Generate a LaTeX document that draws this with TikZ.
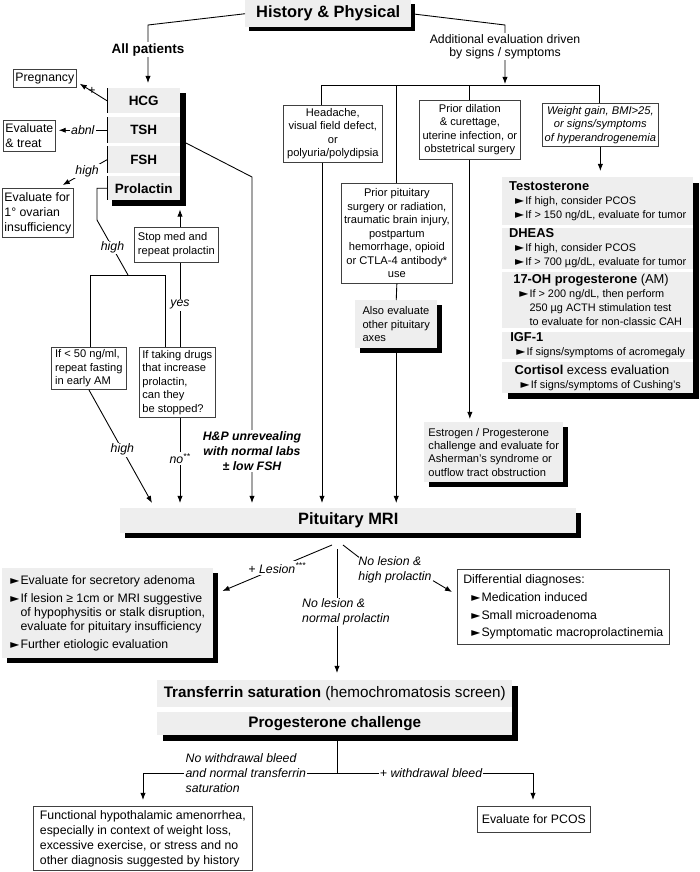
\documentclass[tikz,border=0pt]{standalone}
\usepackage{fontspec}
\setmainfont{Liberation Sans}
\newfontfamily\trifont{DejaVu Sans}
\usetikzlibrary{positioning, calc, arrows.meta, shadows}
\definecolor{boxgray}{HTML}{EEEEEE}
\newcommand{\txtS}{\fontsize{9.5}{11.5}\selectfont}
\newcommand{\txtM}{\fontsize{10.5}{12.8}\selectfont}
\newcommand{\txtB}{\fontsize{9.3}{12}\selectfont}
\newcommand{\txtH}{\fontsize{11}{12}\selectfont}
\newcommand{\txtLab}{\fontsize{11.5}{13}\selectfont\bfseries}
\newcommand{\txtL}{\fontsize{14}{16}\selectfont\bfseries}
\newcommand{\trig}{{\trifont\fontsize{10}{10}\selectfont ►}\hspace{1pt}}
\newcommand{\bul}[1][1.8mm]{\hspace*{#1}\trig}
\newcommand{\bulind}[1][1.8mm]{\hspace*{#1}\phantom{\trig}}
\tikzset{
	arrow/.style={line width=0.75pt, -{Latex[length=6pt, width=4.5pt]}},
	link/.style={line width=0.75pt},
	sz/.style 2 args={minimum width=#1*0.3mm, minimum height=#2*0.3mm, anchor=north west},
	wbox/.style={draw=black!75, line width=0.6pt, fill=white, align=center, font=\txtS, inner sep=1pt},
	gbox/.style={fill=boxgray, align=left, font=\txtS, inner sep=0.5pt},
	shd/.style={drop shadow={shadow xshift=1.5mm, shadow yshift=-1.5mm, fill=black, opacity=1}},
	blk/.style={fill=black, inner sep=0pt},
	wht/.style={fill=white, inner sep=0pt},
	lbl/.style={font=\txtM\itshape, fill=white, inner sep=1pt},
}

\begin{document}
\begin{tikzpicture}[x=0.3mm, y=-0.3mm]
	\useasboundingbox (0,0) rectangle (700,872);

	% History and physical
	\node[gbox, font=\txtL, align=center, sz={166}{27}, drop shadow={shadow xshift=1.2mm, shadow yshift=-1.2mm, fill=black, opacity=1}] (hist) at (245,0) {History \& Physical};

	% Lab stack for all patients
	\node[blk, sz={74}{113}] (stk) at (112,93) {};
	\node[wht, sz={73}{112}] at (107,88) {};
	\node[gbox, font=\txtLab, align=center, sz={73}{25}] (hcg) at (107,88) {HCG};
	\node[gbox, font=\txtLab, align=center, sz={73}{26}] (tsh) at (107,117) {TSH};
	\node[gbox, font=\txtLab, align=center, sz={73}{27}] (fsh) at (107,146) {FSH};
	\node[gbox, font=\txtLab, align=center, sz={73}{24}] (prl) at (107,176) {Prolactin};
	\draw[link] (hcg.north west) -- (hcg.south west);
	\draw[link] (tsh.north west) -- (tsh.south west);
	\draw[link] (fsh.north west) -- (fsh.south west);
	\draw[link] (prl.north west) -- (prl.south west);

	\coordinate (ap) at (148,25);
	\draw[arrow] (hist.west) -- (ap) -- node[pos=0.43, fill=white, inner sep=1pt, font=\txtLab]{All patients} ($(ap |- hcg.north)+(0,-5)$);

	% Side results of the labs
	\node[wbox, font=\txtM, sz={63}{18}] (preg) at (13,69) {Pregnancy};
	\node[wbox, font=\txtM, align=left, sz={52}{31}] (evtr) at (3,120) {Evaluate\\\& treat};
	\node[wbox, font=\txtM, align=left, sz={71}{49}] (ovar) at (2,188) {Evaluate for\\1° ovarian\\insufficiency};
	\draw[arrow] (hcg.west) -- node[font=\txtM, inner sep=0.5pt, pos=0.55]{+} ($(preg.south east)+(3,-4)$);
	\draw[arrow] (tsh.west) -- node[lbl]{abnl} ($(tsh.west -| evtr.east)+(3,0)$);
	\draw[arrow] (fsh.west) -- node[lbl, pos=0.45]{high} ($(ovar.north east)+(-11,-3)$);

	% Prolactin work-up
	\node[wbox, align=left, sz={84}{35}] (stop) at (134,227) {Stop med and\\repeat prolactin};
	\node[wbox, align=left, sz={75}{42}] (lt50) at (51,347) {If < 50 ng/ml,\\repeat fasting\\in early AM};
	\node[wbox, align=left, sz={76}{70}] (drugs) at (139,347) {If taking drugs\\that increase\\prolactin,\\can they\\be stopped?};
	\coordinate (p1) at (97,220);
	\coordinate (p2) at (128,275);
	\coordinate (pl) at (90,275);
	\coordinate (pr) at (165,275);
	\coordinate (xs) at (180,0);
	\draw[link] (prl.west) -| (p1) -- node[lbl]{high} (p2);
	\draw[link] (lt50.north -| pl) |- (pr) -- (pr |- drugs.north);
	\draw[link] (drugs.north -| xs) -- node[lbl]{yes} (stop.south -| xs);
	\draw[arrow] (stop.north -| xs) -- ($(xs |- stk.south)+(0,3)$);

	% Signs and symptoms
	\coordinate (b1) at (321,85);
	\coordinate (b2) at (396,85);
	\coordinate (b3) at (469,85);
	\coordinate (b4) at (599,85);
	\coordinate (ae) at (505,25);
	\draw[arrow] (hist.east) -- (ae) -- node[pos=0.37, fill=white, inner sep=1pt, align=center, font=\fontsize{10.5}{11.2}\selectfont]{Additional evaluation driven\\by signs / symptoms} (505,84);
	\draw[link] (b1) -- (b4);

	\node[wbox, sz={99}{57}] (head) at (283,105) {Headache,\\visual field defect,\\or\\polyuria/polydipsia};
	\node[wbox, sz={111}{100}] (ppit) at (341,183) {Prior pituitary\\surgery or radiation,\\traumatic brain injury,\\postpartum\\hemorrhage, opioid\\or CTLA-4 antibody*\\use};
	\node[gbox, shd, sz={82}{48}] (also) at (355,300) {Also evaluate\\other pituitary\\axes};
	\node[wbox, sz={101}{59}] (pdil) at (419,100) {Prior dilation\\\& curettage,\\uterine infection, or\\obstetrical surgery};
	\node[wbox, font=\txtS\itshape, sz={116}{43}] (wgt) at (542,103) {Weight gain, BMI>25,\\or signs/symptoms\\of hyperandrogenemia};
	\node[gbox, shd, sz={139}{60}] (estr) at (424,422) {Estrogen / Progesterone\\challenge and evaluate for\\Asherman's syndrome or\\outflow tract obstruction};
	\draw[link] (b1) -- (b1 |- head.north);
	\draw[link] (b2) -- (b2 |- ppit.north);
	\draw[link] (b3) -- (b3 |- pdil.north);
	\draw[link] (b4) -- (b4 |- wgt.north);
	\draw[link] (ppit.south) -- (also.north);
	\draw[arrow] (pdil.south) -- ($(pdil.south |- estr.north)+(0,-3)$);

	% Androgen panel
	\node[blk, sz={191}{216}] (labsh) at (508,183) {};
	\node[wht, sz={191}{216}] at (502,177) {};
	\node[gbox, font=\txtB, sz={191}{48}] (testo) at (502,177) {{\txtH\bfseries Testosterone}\\\bul If high, consider PCOS\\\bul If > 150 ng/dL, evaluate for tumor};
	\node[gbox, font=\txtB, sz={191}{40}] (dheas) at (502,228) {{\txtH\bfseries DHEAS}\\\bul If high, consider PCOS\\\bul If > 700 µg/dL, evaluate for tumor};
	\node[gbox, font=\txtB, sz={191}{56}] (ohp) at (502,272) {{\txtH\textbf{17-OH progesterone} (AM)}\\\bul If > 200 ng/dL, then perform\\\bulind 250 µg ACTH stimulation test\\\bulind to evaluate for non-classic CAH};
	\node[gbox, font=\txtB, sz={191}{26}] (igf) at (502,332) {{\txtH\bfseries IGF-1}\\\bul If signs/symptoms of acromegaly};
	\node[gbox, font=\txtB, sz={191}{31}] (cort) at (502,362) {{\txtH\textbf{Cortisol} excess evaluation}\\\bul If signs/symptoms of Cushing's};
	\draw[arrow] (wgt.south) -- ($(wgt.south |- testo.north)+(0,-6)$);

	% Pituitary MRI
	\node[gbox, shd, font=\txtL, align=center, sz={456}{25}] (mri) at (120,508) {Pituitary MRI};
	\coordinate (hp1) at (186,143);
	\coordinate (hp2) at (252,177);
	\coordinate (hd) at (322,0);
	\draw[arrow] (lt50.south) -- node[lbl, pos=0.53]{high} ($(mri.north west)+(32,-5)$);
	\draw[arrow] (drugs.south -| xs) -- node[lbl, pos=0.48]{no\textsuperscript{**}} ($(xs |- mri.north)+(0,-5)$);
	\draw[arrow] (hp1) -- (hp2) -- node[pos=0.84, fill=white, inner sep=1pt, align=center, font=\fontsize{10.5}{13}\selectfont\bfseries\itshape]{H\&P unrevealing\\with normal labs\\± low FSH} ($(hp2 |- mri.north)+(0,-5)$);
	\draw[arrow] (head.south -| hd) -- ($(hd |- mri.north)+(0,-5)$);
	\draw[arrow] (also.south) -- ($(also.south |- mri.north)+(0,-5)$);

	% MRI results
	\node[gbox, shd, font=\fontsize{10.5}{11.6}\selectfont, sz={211}{90}] (les) at (2,568) {\bul[0mm]Evaluate for secretory adenoma\\[4pt]\bul[0mm]If lesion ≥ 1cm or MRI suggestive\\\bulind[0mm]of hypophysitis or stalk disruption,\\\bulind[0mm]evaluate for pituitary insufficiency\\[4pt]\bul[0mm]Further etiologic evaluation};
	\node[wbox, font=\txtM, align=left, sz={212}{75}] (diff) at (457,569) {Differential diagnoses:\\[2.5pt]\bul[2.4mm]Medication induced\\[2.5pt]\bul[2.4mm]Small microadenoma\\[2.5pt]\bul[2.4mm]Symptomatic macroprolactinemia};
	\node[font=\txtM\itshape, align=left, inner sep=1pt] (lhp) at (395,570) {No lesion \&\\high prolactin};

	\node[blk, sz={355}{55}] (tpsh) at (163,686) {};
	\node[wht, sz={355}{55}] at (157,680) {};
	\node[gbox, font=\fontsize{13}{15}\selectfont, align=center, sz={355}{27}] (tsat) at (157,680) {\textbf{Transferrin saturation} (hemochromatosis screen)};
	\node[gbox, font=\fontsize{13}{15}\selectfont\bfseries, align=center, sz={355}{23}] (prog) at (157,712) {Progesterone challenge};

	\coordinate (brL) at (332,545);
	\coordinate (brM) at (337,549);
	\coordinate (brR) at (343,545);
	\draw[arrow] (brL) -- node[lbl]{+ Lesion\textsuperscript{***}} ($(les.north east)+(9,23)$);
	\draw[arrow] (brM) -- ($(brM |- tsat.north)+(0,-7)$);
	\node[lbl, align=left] (lnp) at (346,612) {No lesion \&\\normal prolactin};
	\draw[link] (brR) -- ($(lhp.north west)+(2,2)$);
	\draw[arrow] ($(lhp.south east)+(0,-4)$) -- ($(diff.north west)+(-5,23)$);

	% Progesterone challenge results
	\node[wbox, font=\txtM, align=left, sz={219}{64}] (func) at (33,806) {Functional hypothalamic amenorrhea,\\especially in context of weight loss,\\excessive exercise, or stress and no\\other diagnosis suggested by history};
	\node[wbox, font=\txtM, sz={113}{26}] (pcos) at (477,806) {Evaluate for PCOS};
	\coordinate (bb) at (337,773);
	\coordinate (bl) at (143,773);
	\coordinate (bR) at (533,773);
	\draw[link] (prog.south -| bb) -- (bb);
	\draw[arrow] (bb) -- node[lbl, align=left, pos=0.47]{No withdrawal bleed\\and normal transferrin\\saturation} (bl) -- ($(bl |- func.north)+(0,-6)$);
	\draw[arrow] (bb) -- node[lbl, pos=0.48]{+ withdrawal bleed} (bR) -- ($(bR |- pcos.north)+(0,-6)$);
\end{tikzpicture}
\end{document}
